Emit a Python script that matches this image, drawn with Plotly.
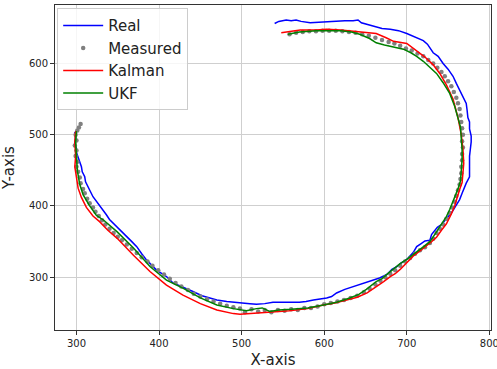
import plotly.graph_objects as go

# Real trajectory (blue)
real_x = [540,545,554,560,566,572,583,595,605,615,625,635,641,645,655,662,670,680,690,700,708,715,720,725,732,738,744,750,756,760,764,768,772,773,774,776,776,778,778,777,776,776,776,772,770,767,764,759,754,748,742,737,734,730,728,722,717,712,708,700,693,688,682,676,667,659,648,635,625,615,609,603,595,587,578,570,555,538,528,518,510,498,490,482,470,462,452,441,433,425,417,409,403,397,391,385,379,373,367,361,355,349,345,340,336,332,326,320,317,314,311,310,307,306,304,302,300,300,298,299,298]
real_y = [656,659,661,660,661,659,657,658,659,659,660,660,661,657,654,651,649,648,646,642,638,635,632,627,615,610,600,592,582,572,562,552,544,535,524,518,508,498,490,480,470,455,441,432,427,418,409,400,390,382,374,370,366,360,352,351,347,343,335,325,320,315,311,304,299,296,291,287,283,278,273,271,270,268,266,265,265,265,263,262,263,264,265,266,268,271,274,280,284,287,292,301,305,310,317,324,333,343,350,357,364,371,375,381,388,394,404,413,420,427,434,441,448,455,462,469,475,480,488,495,504]

# Measured points (gray)
meas_x = [305,303,301,299,300,298,300,299,301,300,302,304,305,308,310,313,316,320,323,327,331,335,340,345,350,355,361,367,373,379,386,392,399,406,413,420,427,435,442,450,458,466,474,482,490,498,504,512,520,528,536,544,552,560,568,576,584,592,600,608,616,624,632,640,648,655,662,668,674,680,686,692,698,704,710,716,722,728,732,736,740,744,748,752,755,758,760,762,764,765,766,766,767,767,768,767,768,767,766,765,764,762,760,757,754,750,746,742,737,732,726,720,713,706,699,692,685,678,670,662,654,646,638,630,622,614,606,598,590,582,574,566,558]
meas_y = [515,510,506,500,492,485,478,470,462,455,448,440,432,424,418,410,404,398,392,386,380,374,368,362,357,352,346,340,334,328,322,316,310,304,298,292,287,282,277,273,269,266,263,260,258,256,251,255,252,254,251,254,253,255,254,257,257,259,262,264,266,268,271,274,279,284,290,295,300,305,310,316,322,327,333,338,342,348,354,362,368,374,382,390,398,406,414,422,430,438,446,455,464,473,482,491,500,509,518,527,536,544,552,560,568,575,582,588,594,600,605,610,614,618,621,625,628,630,633,636,639,641,643,644,645,646,646,646,645,645,644,643,641]

# Kalman filter estimate (red)
kal_x = [548,560,571,590,603,620,639,650,663,675,684,700,712,722,732,740,748,756,762,766,768,769,768,767,764,761,758,754,748,742,736,730,724,716,708,700,692,686,680,672,663,652,640,627,613,599,580,558,538,518,498,490,470,450,429,409,389,369,349,338,328,320,312,306,302,300,298,299,298,299]
kal_y = [643,645,647,647,648,647,645,643,642,636,631,628,617,609,598,586,570,550,524,500,480,460,446,433,423,410,400,389,375,366,356,350,344,337,330,320,311,305,301,294,287,278,272,268,264,261,256,253,251,250,248,249,254,263,275,289,308,331,355,366,378,386,398,412,425,440,455,470,490,505]

# UKF estimate (green)
ukf_x = [556,570,590,603,620,633,643,655,663,673,684,696,705,712,720,728,736,744,752,758,762,765,766,767,767,766,765,762,760,756,752,748,744,740,735,728,718,708,700,692,684,677,670,663,651,642,631,615,599,580,560,545,534,525,518,506,490,470,450,430,409,389,369,349,333,324,315,308,304,301,300,299,300]
ukf_y = [641,644,646,646,646,644,641,635,629,626,623,620,615,610,603,594,586,573,558,540,525,511,495,480,465,446,435,424,418,405,395,385,377,371,362,350,341,332,325,319,312,305,298,294,283,276,271,265,261,257,255,254,252,257,256,253,256,261,271,284,296,315,341,364,380,387,402,416,430,450,470,490,505]

x_ticks = [300, 400, 500, 600, 700, 800]
y_ticks = [300, 400, 500, 600]

fig = go.Figure()
fig.add_trace(go.Scatter(x=real_x, y=real_y, mode="lines", name="Real",
                         line=dict(color="#0000ff", width=1.5)))
fig.add_trace(go.Scatter(x=meas_x, y=meas_y, mode="markers", name="Measured",
                         marker=dict(color="#808080", size=4.5)))
fig.add_trace(go.Scatter(x=kal_x, y=kal_y, mode="lines", name="Kalman",
                         line=dict(color="#ff0000", width=1.5)))
fig.add_trace(go.Scatter(x=ukf_x, y=ukf_y, mode="lines", name="UKF",
                         line=dict(color="#008000", width=1.5)))

axis_common = dict(showline=True, linecolor="#333333", linewidth=1, mirror=True,
                   ticks="outside", ticklen=4, tickcolor="#333333", automargin=False,
                   showgrid=True, gridcolor="#cfcfcf", gridwidth=1, zeroline=False,
                   ticklabeloverflow="allow",
                   tickfont=dict(size=10, color="#222222"))

fig.update_layout(
    width=497, height=369,
    margin=dict(l=55, r=6, t=5, b=39),
    paper_bgcolor="white", plot_bgcolor="white",
    font=dict(family="DejaVu Sans", color="#222222"),
    showlegend=True,
    legend=dict(x=0.005, y=0.99, xanchor="left", yanchor="top", itemwidth=40,
                bgcolor="rgba(255,255,255,0.8)", bordercolor="#cccccc", borderwidth=1,
                font=dict(size=15, color="#222222"), tracegroupgap=0),
    xaxis=dict(range=[274, 802], tickvals=x_ticks,
               title=dict(text="X-axis", font=dict(size=15)), **axis_common),
    yaxis=dict(range=[226, 682], tickvals=y_ticks,
               title=dict(text="Y-axis", font=dict(size=15)), **axis_common),
)

fig.write_html("out.html", config={"displayModeBar": False},
               post_script="document.body.style.margin='0';")
